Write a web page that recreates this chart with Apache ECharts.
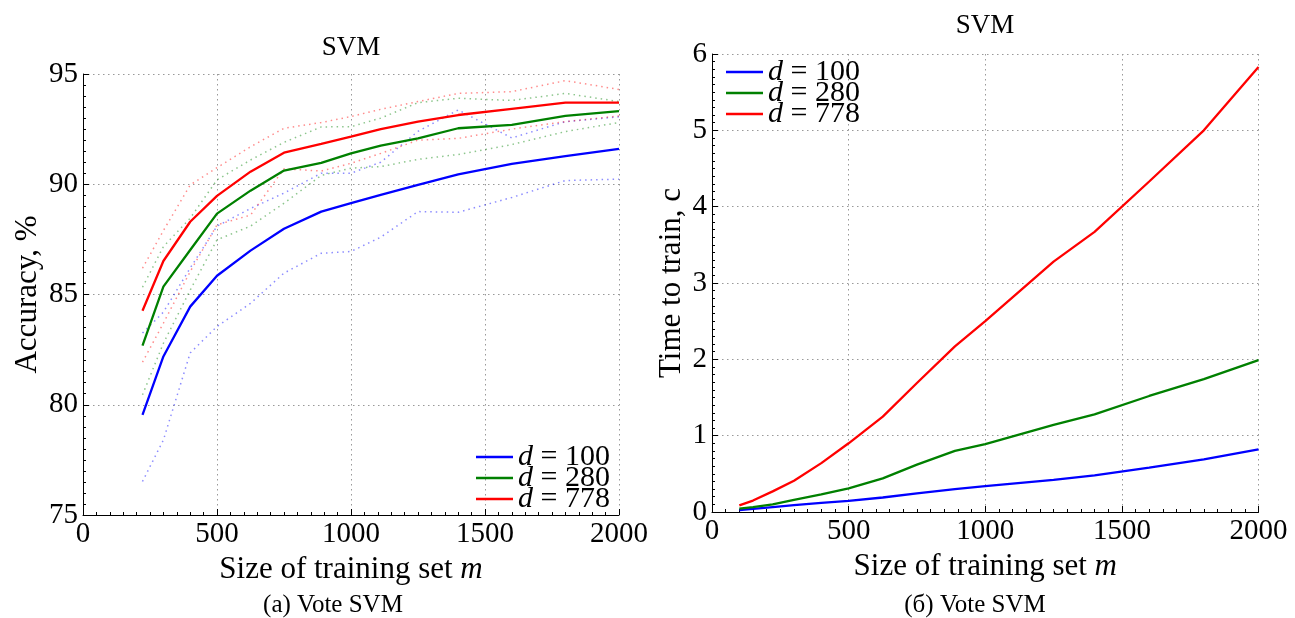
<!DOCTYPE html>
<html>
<head>
<meta charset="utf-8">
<script src="https://cdn.jsdelivr.net/npm/echarts@6/dist/echarts.min.js"></script>
<style>
html, body { margin: 0; padding: 0; background: #fff; }
#chart { width: 1295px; height: 618px; }
</style>
</head>
<body>
<div id="chart"></div>
<script>
// training set sizes, accuracy plot (a)
var sizeAcc = [222, 300, 400, 500, 625, 750, 889, 1000, 1111, 1250, 1400, 1600, 1800, 2000];
// mean accuracy, %
var acc100 = [79.54, 82.19, 84.45, 85.85, 86.99, 87.98, 88.76, 89.14, 89.52, 89.97, 90.45, 90.92, 91.28, 91.60];
var acc280 = [82.68, 85.36, 87.02, 88.67, 89.71, 90.62, 90.97, 91.40, 91.75, 92.08, 92.54, 92.69, 93.10, 93.32];
var acc778 = [84.26, 86.52, 88.30, 89.47, 90.57, 91.43, 91.83, 92.16, 92.50, 92.84, 93.14, 93.42, 93.70, 93.70];
// dotted bounds
var acc100Hi = [83.25, 84.2, 86.2, 88.1, 88.9, 89.6, 90.5, 90.5, 91.0, 92.4, 93.37, 92.1, 92.84, 93.06];
var acc100Lo = [76.52, 78.4, 82.35, 83.55, 84.6, 85.97, 86.87, 86.95, 87.6, 88.76, 88.73, 89.4, 90.17, 90.23];
var acc280Hi = [85.33, 87.17, 88.46, 90.2, 91.1, 91.9, 92.6, 92.61, 93.0, 93.7, 93.9, 93.8, 94.12, 93.75];
var acc280Lo = [80.45, 82.79, 85.2, 87.48, 88.1, 89.14, 90.4, 90.73, 90.8, 91.13, 91.35, 91.8, 92.39, 92.8];
var acc778Hi = [86.19, 87.9, 89.97, 90.75, 91.7, 92.54, 92.8, 93.07, 93.4, 93.75, 94.12, 94.2, 94.7, 94.3];
var acc778Lo = [81.93, 83.7, 86.04, 88.16, 88.6, 90.7, 90.6, 90.95, 91.4, 92.0, 92.08, 92.5, 92.84, 93.1];

// training set sizes, time plot (б)
var sizeTime = [100, 150, 222, 300, 400, 500, 625, 750, 889, 1000, 1250, 1400, 1600, 1800, 2000];
var time100 = [0.026, 0.04, 0.065, 0.09, 0.12, 0.145, 0.19, 0.245, 0.30, 0.34, 0.42, 0.48, 0.58, 0.69, 0.82];
var time280 = [0.044, 0.065, 0.10, 0.16, 0.23, 0.31, 0.44, 0.62, 0.80, 0.89, 1.14, 1.28, 1.52, 1.74, 1.99];
var time778 = [0.087, 0.15, 0.27, 0.41, 0.64, 0.90, 1.25, 1.69, 2.17, 2.50, 3.28, 3.67, 4.33, 5.0, 5.83];

var seriesNames = ["d = 100", "d = 280", "d = 778"];
var colors = ["#0000ff", "#008000", "#ff0000"];

var FONT = "Liberation Serif";

function zip(xs, ys) {
  return xs.map(function(x, i) { return [x, ys[i]]; });
}

function solid(name, color, xs, ys, g) {
  return {
    name: name, type: "line", xAxisIndex: g, yAxisIndex: g,
    data: zip(xs, ys), symbol: "none", silent: true,
    lineStyle: { color: color, width: 2.3 }, itemStyle: { color: color }
  };
}

function dotted(name, color, xs, ys) {
  return {
    name: name, type: "line", xAxisIndex: 0, yAxisIndex: 0,
    data: zip(xs, ys), symbol: "none", silent: true,
    lineStyle: { color: color, width: 1.5, type: [1.5, 4], opacity: 0.45 },
    itemStyle: { color: color }
  };
}

function xAxis(g, gap) {
  return {
    type: "value", gridIndex: g, min: 0, max: 2000, interval: 500,
    axisLine: { show: true, onZero: false, lineStyle: { color: "#000", width: 1 } },
    axisTick: { inside: true, length: 6, lineStyle: { color: "#000" } },
    minorTick: { show: true, splitNumber: 10, length: 3, lineStyle: { color: "#000" } },
    axisLabel: { color: "#000", fontFamily: FONT, fontSize: 29, margin: 5,
      formatter: function(v) { return String(v); } },
    splitLine: { show: true, lineStyle: { color: "#999", type: [1.5, 3.5] } },
    name: "Size of training set {m|m}",
    nameLocation: "middle", nameGap: gap,
    nameTextStyle: {
      color: "#000", fontFamily: FONT, fontSize: 31,
      rich: { m: { fontFamily: FONT, fontSize: 31, fontStyle: "italic", color: "#000" } }
    }
  };
}

function yAxis(g, min, max, step, name, gap) {
  return {
    type: "value", gridIndex: g, min: min, max: max, interval: step,
    axisLine: { show: true, onZero: false, lineStyle: { color: "#000", width: 1 } },
    axisTick: { inside: true, length: 6, lineStyle: { color: "#000" } },
    minorTick: { show: true, splitNumber: 10, length: 3, lineStyle: { color: "#000" } },
    axisLabel: { color: "#000", fontFamily: FONT, fontSize: 29, margin: 5 },
    splitLine: { show: true, lineStyle: { color: "#999", type: [1.5, 3.5] } },
    name: name, nameLocation: "middle", nameGap: gap,
    nameTextStyle: { color: "#000", fontFamily: FONT, fontSize: 31 }
  };
}

function legend(left, top) {
  return {
    data: seriesNames.map(function(n) { return { name: n, icon: "rect" }; }),
    orient: "vertical", left: left, top: top,
    itemWidth: 37, itemHeight: 2.5, itemGap: -9, selectedMode: false,
    formatter: function(name) { return "{i|d} = " + name.split("= ")[1]; },
    textStyle: {
      color: "#000", fontFamily: FONT, fontSize: 30, lineHeight: 21,
      rich: { i: { fontFamily: FONT, fontSize: 30, fontStyle: "italic", lineHeight: 21, color: "#000" } }
    }
  };
}

function label(text, x, y, size) {
  return {
    type: "text", x: x, y: y, silent: true,
    style: { text: text, fill: "#000", font: size + "px '" + FONT + "'", textAlign: "center", textVerticalAlign: "middle" }
  };
}

var series = [
  dotted("lo100", colors[0], sizeAcc, acc100Lo),
  dotted("hi100", colors[0], sizeAcc, acc100Hi),
  dotted("lo280", colors[1], sizeAcc, acc280Lo),
  dotted("hi280", colors[1], sizeAcc, acc280Hi),
  dotted("lo778", colors[2], sizeAcc, acc778Lo),
  dotted("hi778", colors[2], sizeAcc, acc778Hi),
  solid(seriesNames[0], colors[0], sizeAcc, acc100, 0),
  solid(seriesNames[1], colors[1], sizeAcc, acc280, 0),
  solid(seriesNames[2], colors[2], sizeAcc, acc778, 0),
  solid(seriesNames[0], colors[0], sizeTime, time100, 1),
  solid(seriesNames[1], colors[1], sizeTime, time280, 1),
  solid(seriesNames[2], colors[2], sizeTime, time778, 1)
];

var chart = echarts.init(document.getElementById("chart"));
chart.setOption({
  animation: false,
  backgroundColor: "#fff",
  grid: [
    { left: 83, top: 74, width: 536, height: 441 },
    { left: 712, top: 54, width: 546.5, height: 458 }
  ],
  xAxis: [xAxis(0, 27), xAxis(1, 30)],
  yAxis: [
    yAxis(0, 75, 95, 5, "Accuracy, %", 40),
    yAxis(1, 0, 6, 1, "Time to train, с", 25)
  ],
  legend: [legend(471, 437), legend(721, 52)],
  graphic: [
    label("SVM", 351, 48, 27),
    label("SVM", 985, 26, 27),
    label("(a) Vote SVM", 333, 605, 25),
    label("(б) Vote SVM", 975, 605, 25)
  ],
  series: series
});
</script>
</body>
</html>
